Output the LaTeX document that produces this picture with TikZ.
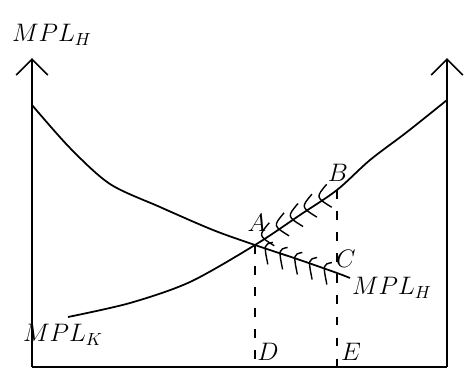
\documentclass[tikz,border=0pt]{standalone}
\usepackage{tikz}
\usetikzlibrary{arrows.meta, positioning, calc}

\begin{document}
\begin{tikzpicture}[
    x=0.02cm, y=-0.02cm,
    axis/.style={line width=1.3pt, -{Straight Barb[length=9pt, width=18pt, line width=1pt]}},
    curve/.style={line width=1pt},
    guide/.style={line width=0.8pt, dash pattern=on 5pt off 7pt},
    lbl/.style={font=\Large},
    hatch/.style={line width=0.8pt}
]
\useasboundingbox (0,0) rectangle (468,383);
\coordinate (o) at (32,367);
\coordinate (r) at (447,367);
\coordinate (ltop) at (32,58);
\coordinate (rtop) at (447,58);
\draw[axis] (o) -- (ltop);
\draw[axis] (r) -- (rtop);
\draw[line width=1.3pt] (o) -- (r);
\coordinate (A) at (255,245);
\coordinate (B) at (337,190);
\coordinate (C) at (337,273);
\coordinate (D) at (255,367);
\coordinate (E) at (337,367);
\draw[curve] plot[smooth] coordinates {(32,105) (70,148) (110,184) (160,207) (213,230) (A) (300,260) (C) (350,278)};
\draw[curve] plot[smooth] coordinates {(68,317) (130,303) (190,282) (A) (300,215) (B) (370,160) (407,132) (447,100)};
\draw[guide] (A) -- (D);
\draw[guide] (B) -- (E);
\foreach \t in {0.15,0.33,0.5,0.67,0.85} {
  \coordinate (h) at ($(A)!\t!(B)$);
  \draw[hatch] ($(h)+(2,-14)$) .. controls ($(h)+(-9,-1)$) .. ($(h)+(7,9)$);
}
\foreach \t in {0.12,0.3,0.48,0.66,0.84} {
  \coordinate (h) at ($(A)!\t!(C)$);
  \draw[hatch] ($(h)+(8,-6)$) .. controls ($(h)+(-1,-4)$) .. ($(h)+(3,16)$);
}
\node[lbl] (lA) at (257,223) {$A$};
\node[lbl] (lB) at (338,173) {$B$};
\node[lbl] (lC) at (346,259) {$C$};
\node[lbl] (lD) at (268,352) {$D$};
\node[lbl] (lE) at (351,352) {$E$};
\node[lbl] (mplh) at (52,35) {$MPL_H$};
\node[lbl] (mplhr) at (392,288) {$MPL_H$};
\node[lbl] (mplk) at (63,335) {$MPL_K$};
\end{tikzpicture}
\end{document}
